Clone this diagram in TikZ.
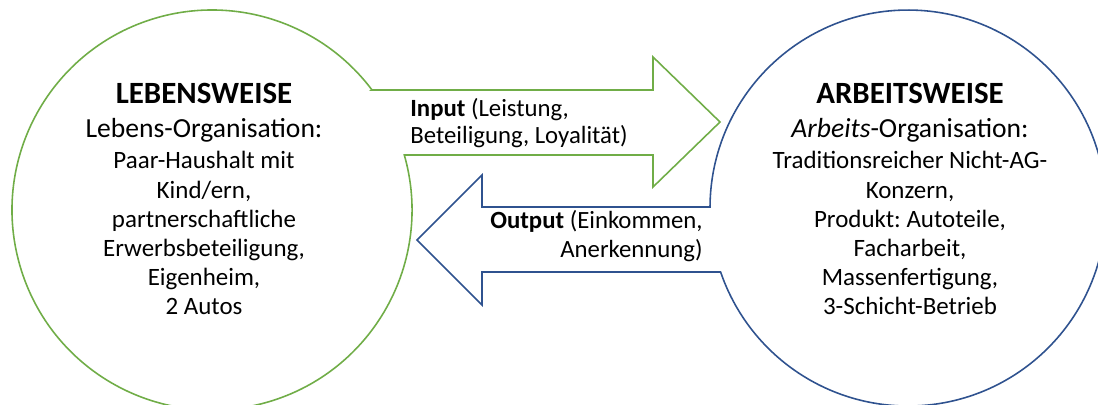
\documentclass[tikz,border=0pt]{standalone}
\usepackage{fontspec}
\setmainfont{Carlito}
\frenchspacing
\definecolor{lgreen}{RGB}{112,173,71}
\definecolor{dblue}{RGB}{47,82,143}
\begin{document}
\begin{tikzpicture}[x=0.02cm,y=0.02cm,
  shapeline/.style={line width=0.9pt, fill=white, line join=miter},
  ttl/.style={anchor=base, inner sep=0pt, font=\fontsize{17.6}{20}\selectfont\bfseries},
  sub/.style={anchor=base, inner sep=0pt, font=\fontsize{15.7}{18}\selectfont},
  body/.style={anchor=base, inner sep=0pt, font=\fontsize{14.2}{17}\selectfont},
  arrtxt/.style={inner sep=0pt, font=\fontsize{14.1}{17}\selectfont}]
\useasboundingbox (0,0) rectangle (1098,405);
% left union shape: circle + input arrow
\draw[shapeline, draw=lgreen] (372,315) -- (653,315) -- (653,348) -- (720,283) -- (653,218) -- (653,250) -- (404.3,250)
  arc[start angle=15.96, end angle=-323.13, radius=200] -- cycle;
% right union shape: circle + output arrow
\draw[shapeline, draw=dblue] (720.6,133) -- (482,133) -- (482,100) -- (417,165) -- (482,230) -- (482,198) -- (710,198)
  arc[start angle=179.7, end angle=-161.14, radius=198] -- cycle;
% left texts
\node[ttl] (lt) at (204,301) {LEBENSWEISE};
\node[sub] (ls) at (204,267) {Lebens-Organisation:};
\node[body] (l1) at (204,236) {Paar-Haushalt mit};
\node[body] (l2) at (204,206.7) {Kind/ern,};
\node[body] (l3) at (204,177.7) {partnerschaftliche};
\node[body] (l4) at (204,148.3) {Erwerbsbeteiligung,};
\node[body] (l5) at (204,119.3) {Eigenheim,};
\node[body] (l6) at (204,90) {2 Autos};
% right texts
\node[ttl] (rt) at (910,301) {ARBEITSWEISE};
\node[sub] (rs) at (910,267) {\textit{Arbeits}-Organisation:};
\node[body] (r1) at (910,236.7) {Traditionsreicher Nicht-AG-};
\node[body] (r2) at (910,206.7) {Konzern,};
\node[body] (r3) at (910,177) {Produkt: Autoteile,};
\node[body] (r4) at (910,148.3) {Facharbeit,};
\node[body] (r5) at (910,119.3) {Massenfertigung,};
\node[body] (r6) at (910,90) {3-Schicht-Betrieb};
% arrow texts
\node[arrtxt, anchor=base west] (i1) at (410,288.3) {\textbf{Input} (Leistung,};
\node[arrtxt, anchor=base west] (i2) at (410,261.7) {Beteiligung, Loyalität)};
\node[arrtxt, anchor=base east] (o1) at (703,176) {\textbf{Output} (Einkommen,};
\node[arrtxt, anchor=base east] (o2) at (703,147) {Anerkennung)};
\end{tikzpicture}
\end{document}
